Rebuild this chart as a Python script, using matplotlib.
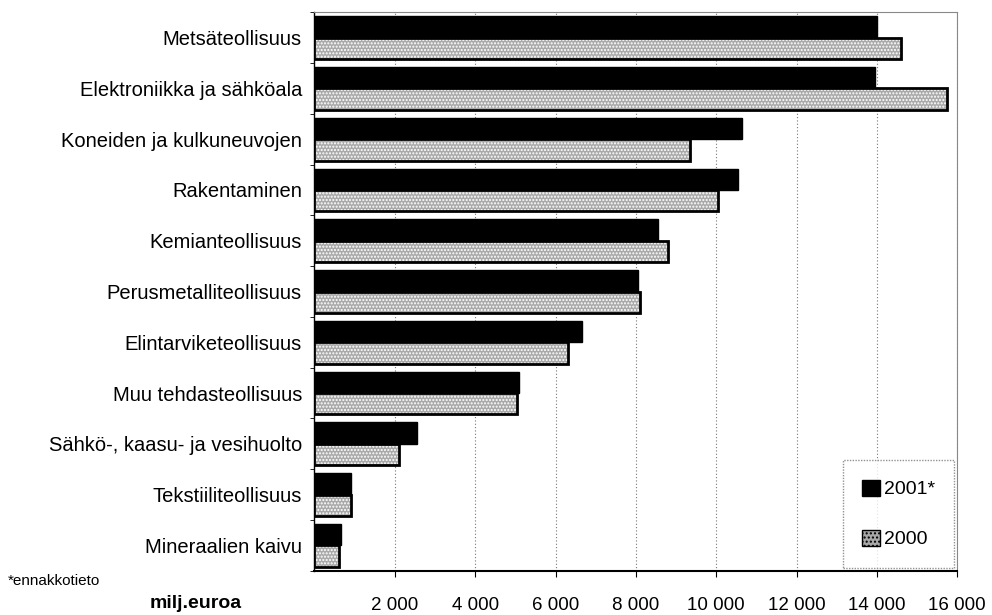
import matplotlib
matplotlib.use("Agg")
import matplotlib.pyplot as plt
import numpy as np
from matplotlib.patches import Patch

# toimialat ylhäältä alas
toimialat = ["Metsäteollisuus", "Elektroniikka ja sähköala", "Koneiden ja kulkuneuvojen",
             "Rakentaminen", "Kemianteollisuus", "Perusmetalliteollisuus",
             "Elintarviketeollisuus", "Muu tehdasteollisuus", "Sähkö-, kaasu- ja vesihuolto",
             "Tekstiiliteollisuus", "Mineraalien kaivu"]
v2001 = [14000, 13950, 10650, 10550, 8550, 8050, 6650, 5100, 2550, 900, 650]
v2000 = [14600, 15750, 9350, 10050, 8800, 8100, 6300, 5050, 2100, 900, 600]
xticks = [2000, 4000, 6000, 8000, 10000, 12000, 14000, 16000]
xlabels = ["2 000", "4 000", "6 000", "8 000", "10 000", "12 000", "14 000", "16 000"]

plt.rcParams['font.family'] = ['Liberation Sans', 'DejaVu Sans']

fig = plt.figure(figsize=(9.92, 6.15), dpi=100)
ax = fig.add_axes([0.317, 0.072, 0.648, 0.908])

n = len(toimialat)
y = np.arange(n)[::-1].astype(float)
h = 0.42
harmaa = '#a9a9a9'

# 2001 mustat palkit
ax.barh(y + h / 2, v2001, height=h, color='black', edgecolor='black', linewidth=1, zorder=3)
# 2000 pisteytetyt harmaat palkit (kuvio + reunus erikseen)
ax.barh(y - h / 2, v2000, height=h, color=harmaa, edgecolor='white', hatch='.....',
        linewidth=0, zorder=3)
ax.barh(y - h / 2, v2000, height=h, fill=False, edgecolor='black', linewidth=2, zorder=4)

ax.set_xlim(0, 16000)
ax.set_ylim(-0.5, n - 0.5)
ax.set_xticks(xticks)
ax.set_xticklabels(xlabels, fontsize=13.5)
ax.tick_params(axis='x', direction='out', length=4, pad=15)
ax.set_yticks(y)
ax.set_yticklabels(toimialat, fontsize=14.5)
ax.tick_params(axis='y', length=0, pad=9)
ax.set_yticks(np.arange(n + 1) - 0.5, minor=True)
ax.tick_params(axis='y', which='minor', length=3, direction='out')

ax.grid(axis='x', color='#777777', linestyle=(0, (1, 2)), linewidth=0.8, zorder=0)
for s in ['top', 'right']:
    ax.spines[s].set_color('#888888')
    ax.spines[s].set_linestyle((0, (1, 1)))
ax.spines['bottom'].set_linewidth(1.5)
ax.spines['left'].set_linewidth(1)

handles = [Patch(facecolor='black', edgecolor='black', label='2001*'),
           Patch(facecolor=harmaa, edgecolor='black', hatch='....', label='2000')]
leg = ax.legend(handles=handles, loc='lower right', fontsize=14, frameon=True, fancybox=False,
                handlelength=0.9, handleheight=0.9, handletextpad=0.2, labelspacing=1.6,
                borderpad=1.0, borderaxespad=0.15)
leg.get_frame().set_edgecolor('#777777')
leg.get_frame().set_linestyle((0, (1, 1)))

fig.text(0.008, 0.048, "*ennakkotieto", fontsize=11)
fig.text(0.151, 0.012, "milj.euroa", fontsize=14, fontweight='bold')

fig.savefig("out.png", dpi=100)
